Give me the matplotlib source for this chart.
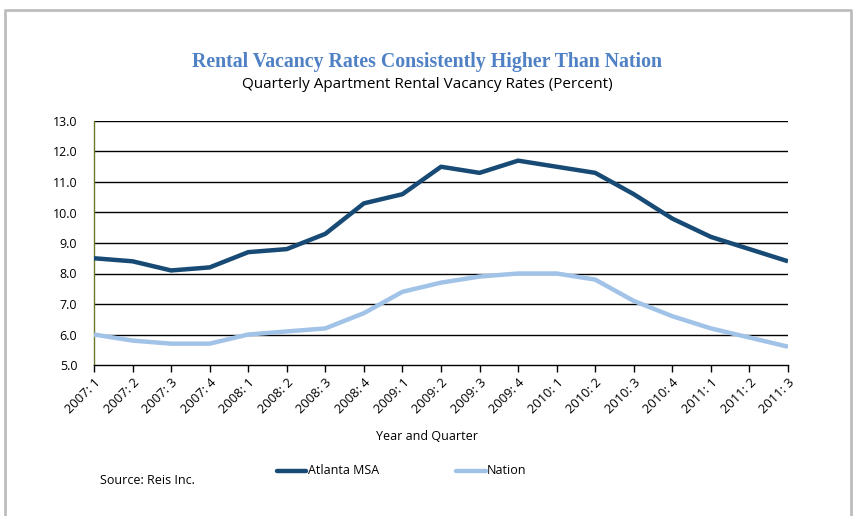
import matplotlib
matplotlib.use("Agg")
import matplotlib.pyplot as plt
from matplotlib.lines import Line2D

quarters = ["2007: 1", "2007: 2", "2007: 3", "2007: 4",
            "2008: 1", "2008: 2", "2008: 3", "2008: 4",
            "2009: 1", "2009: 2", "2009: 3", "2009: 4",
            "2010: 1", "2010: 2", "2010: 3", "2010: 4",
            "2011: 1", "2011: 2", "2011: 3"]
atlanta = [8.5, 8.4, 8.1, 8.2, 8.7, 8.8, 9.3, 10.3, 10.6, 11.5, 11.3, 11.7,
           11.5, 11.3, 10.6, 9.8, 9.2, 8.8, 8.4]
nation = [6.0, 5.8, 5.7, 5.7, 6.0, 6.1, 6.2, 6.7, 7.4, 7.7, 7.9, 8.0,
          8.0, 7.8, 7.1, 6.6, 6.2, 5.9, 5.6]
yticks = [5.0, 6.0, 7.0, 8.0, 9.0, 10.0, 11.0, 12.0, 13.0]

W, H = 854, 516
fig = plt.figure(figsize=(W / 100, H / 100), dpi=100)
fig.patch.set_facecolor("white")

# outer frame (left, top, right)
fx0, fx1, fy0 = 5.5 / W, 851 / W, 1 - 9.5 / H
fig.add_artist(Line2D([fx0, fx0, fx1, fx1], [0, fy0, fy0, 0],
                      transform=fig.transFigure, color="#bdbdbd", lw=2))

ax = fig.add_axes([94 / W, 1 - 365 / H, (788 - 94) / W, (365 - 121) / H])
x = list(range(len(quarters)))
c_atl = "#174a74"
c_nat = "#a2c3e8"
ax.plot(x, atlanta, color=c_atl, lw=3.2, solid_capstyle="butt", zorder=3)
ax.plot(x, nation, color=c_nat, lw=3.2, solid_capstyle="butt", zorder=3)

ax.set_xlim(0, len(quarters) - 1)
ax.set_ylim(5.0, 13.0)
ax.set_yticks(yticks)
ax.set_yticklabels([f"{v:.1f}" for v in yticks], fontsize=9, family="Open Sans")
for v in yticks[1:]:
    ax.axhline(v, color="black", lw=1.0, zorder=1)
ax.set_xticks(x)
ax.set_xticklabels(quarters, rotation=45, ha="right", rotation_mode="anchor",
                   fontsize=9.3, family="Open Sans")
ax.tick_params(axis="y", length=0, pad=12)
ax.tick_params(axis="x", length=5, direction="out", width=1, color="black", pad=3)
for s in ["top", "right"]:
    ax.spines[s].set_visible(False)
ax.spines["left"].set_color("#6b7a2a")
ax.spines["left"].set_linewidth(1)
ax.spines["bottom"].set_color("black")
ax.spines["bottom"].set_linewidth(1)

fig.text(427.5 / W, 1 - 62 / H, "Rental Vacancy Rates Consistently Higher Than Nation",
         ha="center", va="center", fontsize=14.3, fontweight="bold",
         family="Liberation Serif", color="#4f81c4")
fig.text(427 / W, 1 - 84 / H, "Quarterly Apartment Rental Vacancy Rates (Percent)",
         ha="center", va="center", fontsize=11, family="Open Sans", color="black")
fig.text(427 / W, 1 - 437 / H, "Year and Quarter", ha="center", va="center",
         fontsize=9, family="Open Sans")
fig.text(100 / W, 1 - 481 / H, "Source: Reis Inc.", ha="left", va="center",
         fontsize=9, family="Open Sans")

# legend
ly = 1 - 471 / H
fig.add_artist(Line2D([277 / W, 306 / W], [ly, ly], transform=fig.transFigure,
                      color=c_atl, lw=3.2, solid_capstyle="round"))
fig.text(308 / W, ly, "Atlanta MSA", ha="left", va="center", fontsize=9,
         family="Open Sans")
fig.add_artist(Line2D([456 / W, 486 / W], [ly, ly], transform=fig.transFigure,
                      color=c_nat, lw=3.2, solid_capstyle="round"))
fig.text(487 / W, ly, "Nation", ha="left", va="center", fontsize=9,
         family="Open Sans")

fig.savefig("out.png", dpi=100)
